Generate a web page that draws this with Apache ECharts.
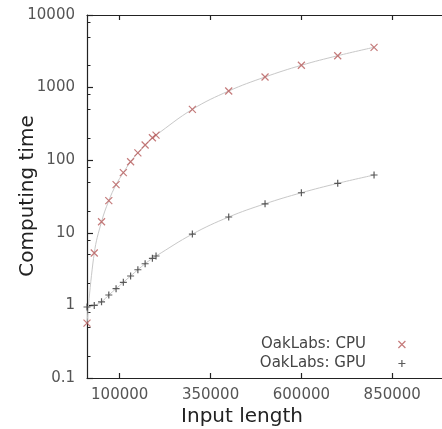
<!DOCTYPE html>
<html>
<head>
<meta charset="utf-8">
<script src="https://cdn.jsdelivr.net/npm/echarts@6/dist/echarts.min.js"></script>
<style>
html,body{margin:0;padding:0;background:#fff;}
#chart{width:442px;height:429px;}
</style>
</head>
<body>
<div id="chart"></div>
<script>
// Data
const inputLengths = [10000, 30000, 50000, 70000, 90000, 110000, 130000, 150000, 170000, 190000, 200000, 300000, 400000, 500000, 600000, 700000, 800000];
const cpuTimes = [0.57, 5.27, 14.2, 27.7, 46, 67.3, 95.3, 126, 162, 204, 222, 502, 898, 1400, 2030, 2750, 3590];
const gpuTimes = [0.95, 1.0, 1.12, 1.39, 1.70, 2.08, 2.54, 3.10, 3.75, 4.45, 4.79, 9.6, 16.5, 25.1, 35.6, 48, 62.5];
const xTickValues = [100000, 350000, 600000, 850000];
const yTickLabels = ['0.1', '1', '10', '100', '1000', '10000'];
const yMinorTickValues = [0.2, 0.5, 0.8, 2, 5, 8, 20, 50, 80, 200, 500, 800, 2000, 5000, 8000];
const seriesNames = ['OakLabs: CPU', 'OakLabs: GPU'];

const FONT = 'DejaVu Sans';
const cpuColor = '#b65a5a';
const gpuColor = '#333333';
const fitColor = '#c8c8c8';
const crossPath = 'path://M0,0L10,10M10,0L0,10';
const plusPath = 'path://M5,0L5,10M0,5L10,5';

const pair = (ys) => inputLengths.map((x, i) => [x, ys[i]]);

const chart = echarts.init(document.getElementById('chart'), null, {renderer: 'canvas'});
chart.setOption({
  animation: false,
  backgroundColor: '#ffffff',
  textStyle: {fontFamily: FONT},
  grid: {left: 87, top: 15, right: 0, bottom: 51, containLabel: false},
  xAxis: [{
    type: 'value', min: 10000, max: 987000,
    axisLine: {show: true, lineStyle: {color: '#222', width: 1.2}},
    axisTick: {show: true, inside: true, length: 5, customValues: xTickValues, lineStyle: {color: '#222', width: 1.2}},
    axisLabel: {show: true, customValues: xTickValues, fontSize: 15, color: '#555', margin: 10, fontFamily: FONT,
      formatter: (v) => String(v)},
    splitLine: {show: false}
  }, {
    type: 'value', min: 10000, max: 987000, position: 'top',
    axisLine: {show: true, lineStyle: {color: '#222', width: 1.2}},
    axisTick: {show: true, inside: true, length: 5, customValues: xTickValues, lineStyle: {color: '#222', width: 1.2}},
    axisLabel: {show: false},
    splitLine: {show: false}
  }],
  yAxis: [{
    type: 'log', logBase: 10, min: 0.1, max: 10000,
    axisLine: {show: true, lineStyle: {color: '#222', width: 1.2}},
    axisTick: {show: true, inside: true, length: 6, lineStyle: {color: '#222', width: 1.2}},
    minorTick: {show: false},
    axisLabel: {show: true, fontSize: 15, color: '#555', margin: 12, fontFamily: FONT,
      formatter: (v) => { const e = Math.round(Math.log10(v)); return yTickLabels[e + 1] || String(v); }},
    splitLine: {show: false}
  }, {
    type: 'log', logBase: 10, min: 0.1, max: 10000, position: 'left',
    axisLine: {show: false},
    axisTick: {show: true, inside: true, length: 3.5, customValues: yMinorTickValues, lineStyle: {color: '#222', width: 1}},
    axisLabel: {show: false},
    splitLine: {show: false}
  }],
  legend: {
    orient: 'vertical', right: 31, top: 332, itemWidth: 62, itemHeight: 7, itemGap: 4,
    align: 'right', selectedMode: false,
    textStyle: {fontSize: 15, color: '#444', lineHeight: 15, fontFamily: FONT},
    data: [
      {name: seriesNames[0], icon: crossPath, itemStyle: {color: 'transparent', borderColor: cpuColor, borderWidth: 1.2}},
      {name: seriesNames[1], icon: plusPath, itemStyle: {color: 'transparent', borderColor: gpuColor, borderWidth: 1.2}}
    ]
  },
  graphic: [
    {type: 'text', x: 28, y: 196, rotation: Math.PI / 2,
      style: {text: 'Computing time', fontSize: 20, fontFamily: FONT, fill: '#222', align: 'center', verticalAlign: 'middle'}},
    {type: 'text', x: 242, y: 417,
      style: {text: 'Input length', fontSize: 20, fontFamily: FONT, fill: '#222', align: 'center', verticalAlign: 'middle'}}
  ],
  series: [
    {name: 'cpu-fit', type: 'line', data: pair(cpuTimes), smooth: 0.4, showSymbol: false, symbol: 'none',
      lineStyle: {color: fitColor, width: 1}, z: 1, silent: true},
    {name: 'gpu-fit', type: 'line', data: pair(gpuTimes), smooth: 0.4, showSymbol: false, symbol: 'none',
      lineStyle: {color: fitColor, width: 1}, z: 1, silent: true},
    {name: seriesNames[0], type: 'scatter', data: pair(cpuTimes), symbol: crossPath, symbolSize: 7, symbolKeepAspect: true,
      itemStyle: {color: 'transparent', borderColor: cpuColor, borderWidth: 1.2}, z: 3},
    {name: seriesNames[1], type: 'scatter', data: pair(gpuTimes), symbol: plusPath, symbolSize: 7, symbolKeepAspect: true,
      itemStyle: {color: 'transparent', borderColor: gpuColor, borderWidth: 1.2}, z: 3}
  ]
});
</script>
</body>
</html>
